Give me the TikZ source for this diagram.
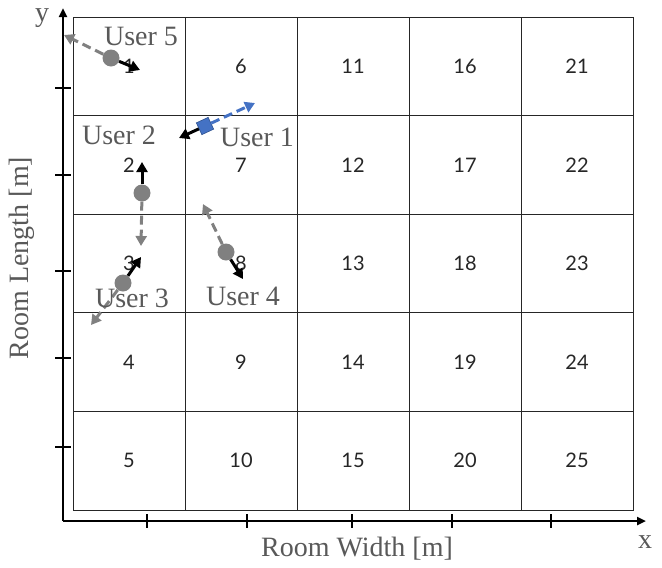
\documentclass[tikz,border=0pt]{standalone}
\usepackage{fontspec}
\setmainfont{Liberation Serif}
\newfontfamily\numfont{Lato}
\usetikzlibrary{arrows.meta}
\definecolor{lblgray}{HTML}{595959}
\definecolor{dotgray}{HTML}{808080}
\definecolor{ublue}{HTML}{4472C4}
\definecolor{ubluedark}{HTML}{2F528F}
\begin{document}
\begin{tikzpicture}[x=1pt,y=-1pt,
  cellbox/.style={draw=black!85, line width=0.8pt, minimum width=112pt, minimum height=98.6pt, inner sep=0pt, outer sep=0pt, font=\numfont\fontsize{20}{20}\selectfont, text=black!85},
  ulabel/.style={font=\fontsize{28}{28}\selectfont, text=lblgray, inner sep=0pt},
  axisline/.style={line width=2.5pt, -{Triangle[length=9pt,width=8pt]}},
  tickmark/.style={line width=2.5pt},
  udot/.style={circle, fill=dotgray, minimum size=17pt, inner sep=0pt},
  ublock/.style={rectangle, fill=ublue, draw=ubluedark, line width=0.6pt, minimum size=13pt, inner sep=0pt, rotate=25},
  moveblack/.style={line width=3pt, -{Triangle[length=10pt,width=11pt]}},
  movegray/.style={line width=3pt, dotgray, dash pattern=on 9pt off 5pt, -{Triangle[length=10pt,width=11pt]}},
  moveblue/.style={line width=3pt, ublue, dash pattern=on 9pt off 5pt, -{Triangle[length=10pt,width=11pt]}},
]
\useasboundingbox (0,0) rectangle (662,568);

% grid of cells
\foreach \i in {1,...,5}{
  \foreach \j in {1,...,5}{
    \pgfmathtruncatemacro{\n}{5*(\i-1)+\j}
    \node[cellbox] (c\n) at ({73+112*(\i-0.5)},{17+98.6*(\j-0.5)}) {\n};
  }
}

% axes
\coordinate (origin) at (63,521);
\coordinate (ytop) at (63,8);
\coordinate (xend) at (646,521);
\draw[axisline] (origin) -- (ytop);
\draw[axisline] (origin) -- (xend);
\foreach \yy in {88,175,271,358,447}{
  \draw[tickmark] (55,\yy) -- (71,\yy);
}
\foreach \xx in {147,247,352,452,551}{
  \draw[tickmark] (\xx,514) -- (\xx,528);
}
\node[ulabel] (ylab) at (42,18) {y};
\node[ulabel] (xlab) at (645,542) {x};
\node[ulabel] (wlab) at (357,549) {Room Width [m]};
\node[ulabel, rotate=90] (llab) at (22,258) {Room Length [m]};

% targets
\coordinate (u5g) at (64,35);
\coordinate (u5b) at (140,70);
\coordinate (u1g) at (255,103);
\coordinate (u1b) at (179,138);
\coordinate (u2b) at (142,162);
\coordinate (u2g) at (141,246);
\coordinate (u3b) at (141,257);
\coordinate (u3g) at (91,325);
\coordinate (u4g) at (203,204);
\coordinate (u4b) at (243,279);

% users
\node[udot] (u5) at (111,58) {};
\node[udot] (u2) at (142,193) {};
\node[udot] (u3) at (123,283) {};
\node[udot] (u4) at (226,252) {};
\node[ublock] (u1) at (205,126) {};

\draw[movegray] (u5) -- (u5g);
\draw[moveblack] (u5) -- (u5b);
\draw[moveblue] (u1) -- (u1g);
\draw[moveblack] (u1) -- (u1b);
\draw[moveblack] (u2) -- (u2b);
\draw[movegray] (u2) -- (u2g);
\draw[moveblack] (u3) -- (u3b);
\draw[movegray] (u3) -- (u3g);
\draw[movegray] (u4) -- (u4g);
\draw[moveblack] (u4) -- (u4b);

% labels
\node[ulabel] (l5) at (141,36) {User 5};
\node[ulabel] (l2) at (119,135) {User 2};
\node[ulabel] (l1) at (257,137) {User 1};
\node[ulabel] (l3) at (132,298) {User 3};
\node[ulabel] (l4) at (243,296) {User 4};
\end{tikzpicture}
\end{document}
